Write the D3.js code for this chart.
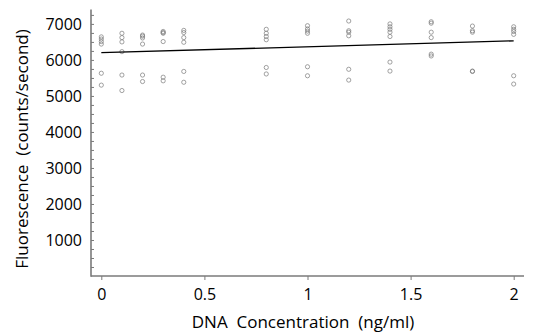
<!DOCTYPE html>
<html>
<head>
<meta charset="utf-8">
<script src="https://cdn.jsdelivr.net/npm/d3@7"></script>
<style>
  body { margin: 0; background: #fff; }
  text { font-family: "Open Sans", sans-serif; fill: #000; }
</style>
</head>
<body>
<div id="chart"></div>
<script>
// concentrations (ng/ml) and the replicate readings at each one
const concentrations = [0, 0.1, 0.2, 0.3, 0.4, 0.8, 1.0, 1.2, 1.4, 1.6, 1.8, 2.0];
const readings = [
  [6640, 6580, 6510, 6440, 5630, 5300],
  [6740, 6620, 6500, 6230, 5580, 5150],
  [6690, 6660, 6610, 6440, 5580, 5400],
  [6790, 6760, 6740, 6510, 5520, 5420],
  [6820, 6760, 6620, 6490, 5680, 5380],
  [6850, 6740, 6650, 6560, 5790, 5610],
  [6950, 6860, 6800, 6740, 5810, 5560],
  [7080, 6810, 6770, 6670, 5740, 5440],
  [7000, 6920, 6850, 6770, 6650, 5940, 5690],
  [7060, 7020, 6770, 6620, 6160, 6110],
  [6940, 6810, 6770, 5690, 5680],
  [6920, 6850, 6790, 6710, 5560, 5330]
];
// fitted line end points
const fitX = [0, 2];
const fitY = [6200, 6530];

const xTicks = [0, 0.5, 1, 1.5, 2];
const yTicks = [1000, 2000, 3000, 4000, 5000, 6000, 7000];
// double gaps kept with non-breaking spaces
const xTitle = "DNA\u00a0\u00a0Concentration\u00a0\u00a0(ng/ml)";
const yTitle = "Fluorescence\u00a0\u00a0(counts/second)";

const width = 533, height = 335;

const svg = d3.select("#chart")
  .append("svg")
  .attr("width", width)
  .attr("height", height);

const x = d3.scaleLinear().domain([-0.05, 2.05]).range([91, 524]);
const y = d3.scaleLinear().domain([0, 7400]).range([276, 9.5]);

const axisColor = "#7a7a7a";

// y axis: minor ticks pointing in, labels on the left
const yMinor = svg.append("g")
  .attr("transform", `translate(${x.range()[0]},0)`)
  .call(d3.axisRight(y).tickValues(d3.range(250, 7300, 250)).tickSize(3).tickFormat(""));
yMinor.select(".domain").remove();
yMinor.selectAll("line").attr("stroke", axisColor).attr("stroke-width", 1);

const yLab = svg.append("g")
  .attr("transform", `translate(${x.range()[0]},0)`)
  .call(d3.axisLeft(y).tickValues(yTicks).tickSize(0).tickPadding(9).tickFormat(d3.format("d")));
yLab.select(".domain").remove();
yLab.selectAll("text").style("font-size", "16px").attr("fill", "#000");

// x axis
const xAxis = svg.append("g")
  .attr("transform", `translate(0,${y.range()[0]})`)
  .call(d3.axisBottom(x).tickValues(xTicks).tickSize(4).tickPadding(9).tickFormat(d => String(d)));
xAxis.select(".domain").remove();
xAxis.selectAll("line").attr("stroke", axisColor).attr("stroke-width", 1);
xAxis.selectAll("text").style("font-size", "16px").attr("fill", "#000");

// axis lines
svg.append("line")
  .attr("x1", x.range()[0]).attr("x2", x.range()[0])
  .attr("y1", y.range()[1]).attr("y2", y.range()[0] + 0.75)
  .attr("stroke", axisColor).attr("stroke-width", 1.6);
svg.append("line")
  .attr("x1", x.range()[0]).attr("x2", x.range()[1])
  .attr("y1", y.range()[0]).attr("y2", y.range()[0])
  .attr("stroke", axisColor).attr("stroke-width", 1.6);

// points
const pts = [];
concentrations.forEach((c, i) => readings[i].forEach(v => pts.push({ c, v })));

svg.append("g")
  .selectAll("circle")
  .data(pts)
  .enter()
  .append("circle")
  .attr("cx", d => x(d.c))
  .attr("cy", d => y(d.v))
  .attr("r", 2.1)
  .style("fill", "none")
  .style("stroke", "#7a7a7a")
  .style("stroke-width", 0.7);

// regression line
svg.append("line")
  .attr("x1", x(fitX[0])).attr("y1", y(fitY[0]))
  .attr("x2", x(fitX[1])).attr("y2", y(fitY[1]))
  .attr("stroke", "#000")
  .attr("stroke-width", 1.3);

// titles
svg.append("text")
  .attr("x", 303)
  .attr("y", 328)
  .attr("text-anchor", "middle")
  .style("font-size", "17px")
  .text(xTitle);

svg.append("text")
  .attr("transform", "translate(28,149) rotate(-90)")
  .attr("text-anchor", "middle")
  .style("font-size", "17px")
  .text(yTitle);
</script>
</body>
</html>
